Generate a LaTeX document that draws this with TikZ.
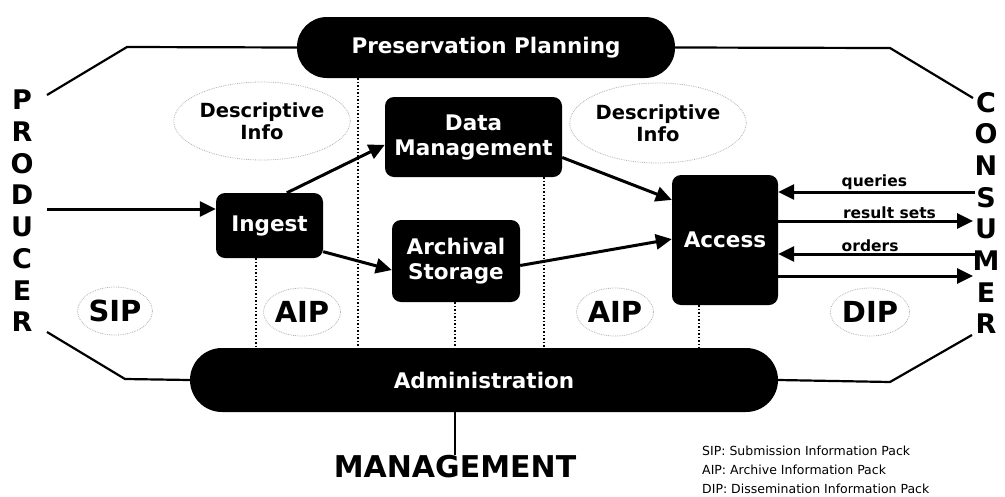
\documentclass[tikz,border=0pt]{standalone}
\usepackage{fontspec}
\setmainfont{DejaVu Sans}
\usepackage{tikz}
\usetikzlibrary{arrows.meta,positioning,shapes.geometric}
\tikzstyle{block}=[fill=black,text=white,font=\bfseries\fontsize{21.5}{25}\selectfont,rounded corners=9pt,align=center,inner sep=0pt]
\tikzstyle{band}=[fill=black,text=white,font=\bfseries\fontsize{21.5}{24}\selectfont,inner sep=0pt]
\tikzstyle{pack}=[draw=gray!60,line width=0.8pt,densely dotted,ellipse,inner sep=0pt,align=center,font=\bfseries\fontsize{19.5}{22}\selectfont]
\tikzstyle{bigpack}=[pack,font=\bfseries\fontsize{29}{30}\selectfont]
\tikzstyle{actor}=[align=center,inner sep=0pt,font=\bfseries\fontsize{27}{31.7}\selectfont]
\tikzstyle{flow}=[line width=3pt,-{Triangle[length=16pt,width=15pt]}]
\tikzstyle{edge}=[line width=2.2pt]
\tikzstyle{divider}=[line width=1.5pt,dotted]
\tikzstyle{msg}=[anchor=south west,inner sep=1pt,font=\bfseries\fontsize{15.5}{16}\selectfont]

\begin{document}
\begin{tikzpicture}[x=1pt,y=-1pt]
\useasboundingbox (0,0) rectangle (1005,496);
% functional entities
\draw (486,47.5) node [band,rounded corners=30pt,minimum width=378pt,minimum height=61pt] (plan) {Preservation Planning};
\draw (484,380) node [band,rounded corners=32pt,minimum width=588pt,minimum height=64pt] (admin) {Administration};
\draw (269.5,225.5) node [block,minimum width=107pt,minimum height=65pt] (ingest) {Ingest};
\draw (473.5,137) node [block,minimum width=177pt,minimum height=80pt] (datamgmt) {Data\\Management};
\draw (456,261) node [block,minimum width=128pt,minimum height=82pt] (storage) {Archival\\Storage};
\draw (725,240) node [block,minimum width=106pt,minimum height=130pt] (access) {Access};

% actors
\draw (22,211) node [actor] (producer) {P\\R\\O\\D\\U\\C\\E\\R};
\draw (986,213) node [actor] (consumer) {C\\O\\N\\S\\U\\M\\E\\R};
\draw (455,467) node [actor,font=\bfseries\fontsize{30}{32}\selectfont] (mgmt) {MANAGEMENT};

% information packages
\draw (262,121) node [pack,minimum width=137pt,minimum height=78pt] (descleft) {Descriptive\\Info};
\draw (658,123) node [pack,minimum width=137pt,minimum height=80pt] (descright) {Descriptive\\Info};
\draw (115,311) node [bigpack,minimum width=70pt,minimum height=48pt] (sip) {SIP};
\draw (302,312) node [bigpack,minimum width=72pt,minimum height=48pt] (aipleft) {AIP};
\draw (615,312) node [bigpack,minimum width=72pt,minimum height=48pt] (aipright) {AIP};
\draw (870,312) node [bigpack,minimum width=74pt,minimum height=48pt] (dip) {DIP};

% outline
\coordinate (ptl) at (47,95);
\coordinate (pbl) at (47,332);
\coordinate (ptr) at (973,98);
\coordinate (pbr) at (972,335);
\draw[edge] (ptl) -- (127,47) -- (plan.west);
\draw[edge] (plan.east) -- (890,48) -- (ptr);
\draw[edge] (pbl) -- (125,379) -- (admin.west);
\draw[edge] (admin.east) -- (890,382) -- (pbr);
\draw[edge] (admin.south -| mgmt.north) -- (mgmt.north);

% dividers
\draw[divider] (256,258) -- (256,348);
\draw[divider] (358,78) -- (358,348);
\draw[divider] (455,302) -- (455,348);
\draw[divider] (544,177) -- (544,348);
\draw[divider] (699,305) -- (699,348);

% data flows
\coordinate (pin) at (47,209);
\draw[flow] (pin) -- (pin -| ingest.west);
\draw[flow] (ingest.62) -- (datamgmt.185);
\draw[flow] (ingest.-26) -- (storage.188);
\draw[flow] (datamgmt.-13) -- (access.143);
\draw[flow] (storage.-4) -- (access.179);

\coordinate (cq) at (975,192);
\coordinate (cr) at (973,221);
\coordinate (co) at (975,254);
\coordinate (cd) at (973,276);
\draw[flow] (cq) -- (cq -| access.east) node[msg,pos=0.69] {queries};
\draw[flow] (cr -| access.east) -- (cr) node[msg,pos=0.32] {result sets};
\draw[flow] (co) -- (co -| access.east) node[msg,pos=0.69] {orders};
\draw[flow] (cd -| access.east) -- (cd);

% legend
\draw (702,446) node [anchor=north west,align=left,inner sep=0pt,font=\fontsize{12.5}{19}\selectfont] (legend) {SIP: Submission Information Pack\\AIP: Archive Information Pack\\DIP: Dissemination Information Pack};
\end{tikzpicture}
\end{document}
